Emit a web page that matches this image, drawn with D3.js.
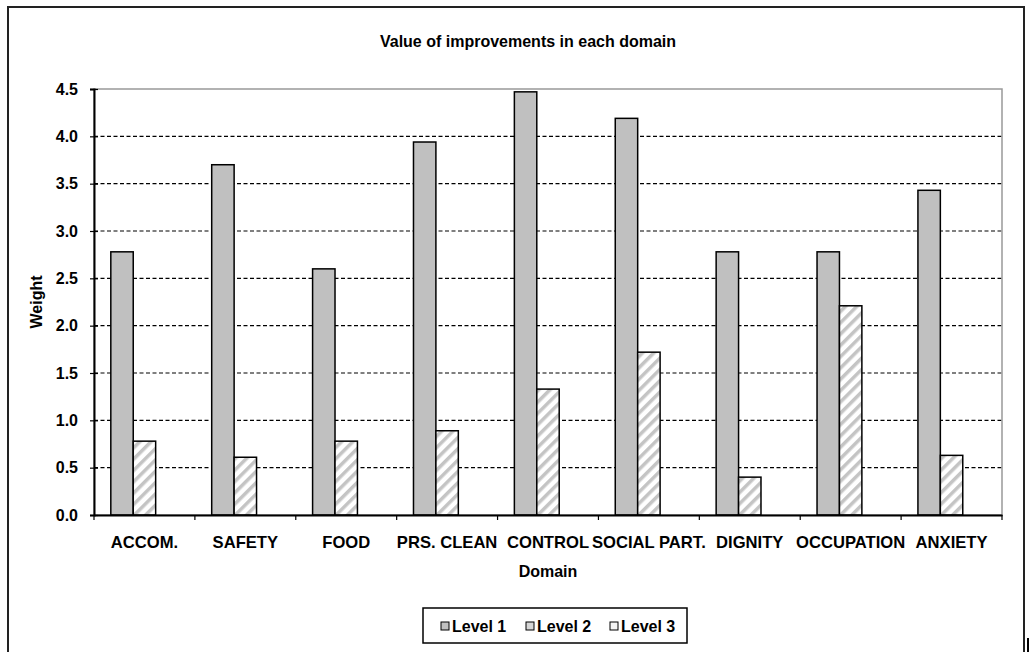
<!DOCTYPE html>
<html lang="en">
<head>
    <meta charset="UTF-8">
    <title>Value of improvements in each domain</title>
    <script src="https://d3js.org/d3.v7.min.js"></script>
    <style>
        body { margin: 0; background: #fff; }
        svg text { font-family: "Liberation Sans", Arial, sans-serif; font-weight: bold; fill: #000; }
    </style>
</head>
<body>
    <div id="chart"></div>
    <script>
        // values
        const domains = ["ACCOM.", "SAFETY", "FOOD", "PRS. CLEAN", "CONTROL", "SOCIAL PART.", "DIGNITY", "OCCUPATION", "ANXIETY"];
        const levels = ["Level 1", "Level 2", "Level 3"];
        const level1 = [2.78, 3.70, 2.60, 3.94, 4.47, 4.19, 2.78, 2.78, 3.43];
        const level2 = [0.78, 0.61, 0.78, 0.89, 1.33, 1.72, 0.40, 2.21, 0.63];
        const level3 = [0, 0, 0, 0, 0, 0, 0, 0, 0];
        const yTicks = [0, 0.5, 1, 1.5, 2, 2.5, 3, 3.5, 4, 4.5];

        const series = [level1, level2, level3];

        const width = 1029, height = 652;
        const margin = { top: 89, right: 27, bottom: 137, left: 94 };
        const plotW = width - margin.left - margin.right;
        const plotH = height - margin.top - margin.bottom;

        const svg = d3.select("#chart").append("svg")
            .attr("width", width)
            .attr("height", height);

        // hatch for level 2
        const defs = svg.append("defs");
        const hatch = defs.append("pattern")
            .attr("id", "hatch")
            .attr("patternUnits", "userSpaceOnUse")
            .attr("width", 8)
            .attr("height", 8)
            .attr("patternTransform", "rotate(45)");
        hatch.append("rect").attr("width", 8).attr("height", 8).attr("fill", "#fff");
        hatch.append("rect").attr("x", 0).attr("width", 3.5).attr("height", 8).attr("fill", "#c4c4c4");

        const fills = ["#c0c0c0", "url(#hatch)", "#fff"];

        // outer chart border
        svg.append("rect")
            .attr("x", 8).attr("y", 7)
            .attr("width", 1016).attr("height", 660)
            .attr("fill", "none")
            .attr("stroke", "#222")
            .attr("stroke-width", 2);
        svg.append("line")
            .attr("x1", 1028).attr("x2", 1028)
            .attr("y1", 638).attr("y2", 652)
            .attr("stroke", "#000").attr("stroke-width", 2);

        svg.append("text")
            .attr("x", 528).attr("y", 47)
            .attr("text-anchor", "middle")
            .style("font-size", "16px")
            .text("Value of improvements in each domain");

        const g = svg.append("g").attr("transform", `translate(${margin.left},${margin.top})`);

        const x0 = d3.scaleBand().domain(domains).range([0, plotW]).padding(0);
        const y = d3.scaleLinear().domain([0, 4.5]).range([plotH, 0]);

        // gridlines
        g.selectAll(".grid")
            .data(yTicks.filter(t => t > 0 && t < 4.5))
            .enter().append("line")
            .attr("x1", 0).attr("x2", plotW)
            .attr("y1", d => y(d)).attr("y2", d => y(d))
            .attr("stroke", "#000")
            .attr("stroke-width", 1.2)
            .attr("stroke-dasharray", "4,2.5");

        // plot area border
        g.append("rect")
            .attr("width", plotW).attr("height", plotH)
            .attr("fill", "none")
            .attr("stroke", "#999")
            .attr("stroke-width", 1.5);

        // bars: 3 bars per group, gap width 150%
        const bw = x0.bandwidth() / 4.5;
        const x1 = d3.scaleBand().domain(levels).range([0.75 * bw, 3.75 * bw]).padding(0);

        const groups = g.selectAll(".group")
            .data(domains)
            .enter().append("g")
            .attr("transform", d => `translate(${x0(d)},0)`);

        groups.selectAll("rect")
            .data((d, i) => series.map((s, k) => ({ level: levels[k], k: k, value: s[i] })))
            .enter().append("rect")
            .attr("x", d => x1(d.level))
            .attr("y", d => y(d.value))
            .attr("width", x1.bandwidth())
            .attr("height", d => plotH - y(d.value))
            .attr("fill", d => fills[d.k])
            .attr("stroke", "#000")
            .attr("stroke-width", 1.5);

        // x axis
        const xAxis = g.append("g")
            .attr("transform", `translate(0,${plotH})`)
            .call(d3.axisBottom(x0).tickSize(0).tickPadding(21));
        xAxis.select(".domain").attr("stroke", "#000").attr("stroke-width", 2);
        xAxis.selectAll("text").style("font-size", "16.6px");
        g.selectAll(".xtick")
            .data(d3.range(domains.length + 1))
            .enter().append("line")
            .attr("x1", i => i * x0.step()).attr("x2", i => i * x0.step())
            .attr("y1", plotH).attr("y2", plotH + 5)
            .attr("stroke", "#000").attr("stroke-width", 1.2);

        // y axis
        const yAxis = g.append("g")
            .call(d3.axisLeft(y).tickValues(yTicks).tickFormat(d3.format(".1f")).tickSize(4).tickPadding(12));
        yAxis.select(".domain").attr("stroke", "#000").attr("stroke-width", 2);
        yAxis.selectAll(".tick line").attr("x1", 4).attr("stroke", "#000").attr("stroke-width", 1.2);
        yAxis.selectAll("text").style("font-size", "16px");

        // axis titles
        svg.append("text")
            .attr("transform", `translate(42,${margin.top + plotH / 2}) rotate(-90)`)
            .attr("text-anchor", "middle")
            .style("font-size", "16px")
            .text("Weight");
        svg.append("text")
            .attr("x", margin.left + plotW / 2).attr("y", 577)
            .attr("text-anchor", "middle")
            .style("font-size", "16px")
            .text("Domain");

        // legend
        const legend = svg.append("g");
        legend.append("rect")
            .attr("x", 423).attr("y", 608)
            .attr("width", 264).attr("height", 35)
            .attr("fill", "#fff")
            .attr("stroke", "#000")
            .attr("stroke-width", 1.5);
        const legendX = [441, 526, 610];
        const legendFills = ["#c0c0c0", "#d6d6d6", "#f4f4f4"];
        levels.forEach((lv, k) => {
            legend.append("rect")
                .attr("x", legendX[k]).attr("y", 622)
                .attr("width", 8).attr("height", 8)
                .attr("fill", legendFills[k])
                .attr("stroke", "#000")
                .attr("stroke-width", 1);
            legend.append("text")
                .attr("x", legendX[k] + 11).attr("y", 632)
                .style("font-size", "16px")
                .text(lv);
        });
    </script>
</body>
</html>
